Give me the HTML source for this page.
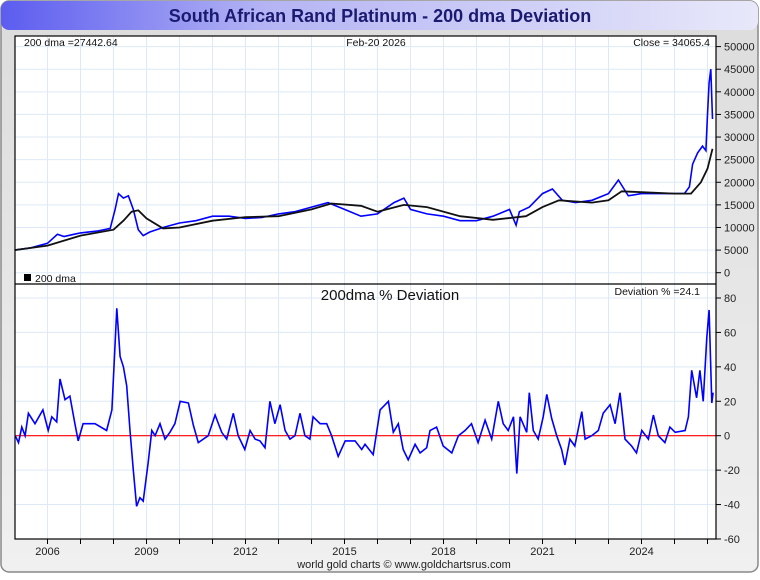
<!DOCTYPE html>
<html><head><meta charset="utf-8"><style>
body{margin:0;width:760px;height:575px;background:#fff;font-family:"Liberation Sans",sans-serif;overflow:hidden}
</style></head><body>
<svg id="c" width="760" height="575" xmlns="http://www.w3.org/2000/svg">
<defs>
<linearGradient id="tg" x1="0" x2="1" y1="0" y2="0"><stop offset="0" stop-color="#5c5cf0"/><stop offset="0.35" stop-color="#b4b4f4"/><stop offset="1" stop-color="#e8e8fa"/></linearGradient>
<linearGradient id="bg" x1="0" x2="0" y1="0" y2="1"><stop offset="0" stop-color="#dcdcdc"/><stop offset="1" stop-color="#f0f0f0"/></linearGradient>
</defs>
<rect x="1" y="1" width="757" height="571" rx="8" fill="url(#bg)" stroke="#888" stroke-width="1.5"/>
<rect x="1" y="1" width="757" height="29" rx="8" fill="url(#tg)"/>
<text x="380" y="22" text-anchor="middle" font-size="18" font-weight="bold" fill="#1a1a70">South African Rand Platinum - 200 dma Deviation</text>
<rect x="15" y="36" width="701" height="503" fill="#fff"/>
<g id="grid"></g>
<g id="marks"></g>
<line x1="15" y1="284" x2="716" y2="284" stroke="#000" stroke-width="1.2"/>
<rect x="15" y="36" width="701" height="503" fill="none" stroke="#000" stroke-width="1.2"/>
<g id="axes" font-size="11" fill="#222"></g>
<text x="24" y="46" font-size="10.5" fill="#111">200 dma =27442.64</text>
<text x="376" y="46" text-anchor="middle" font-size="10.5" fill="#111">Feb-20  2026</text>
<text x="710" y="46" text-anchor="end" font-size="10.5" fill="#111">Close = 34065.4</text>
<rect x="24" y="274" width="7" height="7" fill="#000"/>
<text x="35" y="282" font-size="10.5" fill="#111">200 dma</text>
<text x="390" y="300" text-anchor="middle" font-size="15" fill="#111">200dma  %  Deviation</text>
<text x="700" y="295" text-anchor="end" font-size="10.5" fill="#111">Deviation % =24.1</text>
<text x="404" y="568" text-anchor="middle" font-size="11" fill="#222">world gold charts © www.goldchartsrus.com</text>
</svg>
<script>
const priceT=[2005.0,2005.5,2006.0,2006.3,2006.5,2006.8,2007.0,2007.5,2007.9,2008.05,2008.15,2008.3,2008.45,2008.6,2008.75,2008.9,2009.1,2009.5,2010.0,2010.5,2011.0,2011.5,2012.0,2012.5,2013.0,2013.5,2014.0,2014.5,2015.0,2015.5,2016.0,2016.5,2016.8,2017.0,2017.5,2018.0,2018.5,2019.0,2019.5,2020.0,2020.2,2020.3,2020.6,2021.0,2021.3,2021.6,2022.0,2022.5,2023.0,2023.3,2023.6,2024.0,2024.5,2025.0,2025.3,2025.45,2025.55,2025.7,2025.85,2025.95,2026.0,2026.05,2026.1,2026.15];
const priceV=[5000,5500,6500,8500,8000,8500,8800,9200,9800,14000,17500,16500,17000,14000,9500,8200,9000,10000,11000,11500,12500,12500,12000,12200,13000,13500,14500,15500,14000,12500,13000,15500,16500,14000,13000,12500,11500,11500,12500,14000,10500,13500,14500,17500,18500,16000,15500,16000,17500,20500,17000,17500,17500,17500,17500,19000,24000,26500,28000,27000,35000,42000,45000,34000];
const dmaT=[2005.0,2006.0,2007.0,2008.0,2008.3,2008.55,2008.75,2009.0,2009.5,2010.0,2011.0,2012.0,2013.0,2014.0,2014.6,2015.5,2016.0,2016.8,2017.5,2018.5,2019.5,2020.5,2021.0,2021.5,2022.5,2023.0,2023.4,2024.0,2025.0,2025.5,2025.8,2026.0,2026.15];
const dmaV=[5000,6000,8200,9500,11500,13500,13800,12000,9800,10000,11500,12300,12500,14000,15300,14800,13500,15000,14500,12500,11700,12500,14500,16000,15500,16000,18000,17800,17500,17500,20000,23000,27400];
const devT=[2005.02,2005.12,2005.22,2005.32,2005.42,2005.62,2005.86,2006.02,2006.13,2006.28,2006.38,2006.53,2006.68,2006.83,2006.93,2007.08,2007.44,2007.79,2007.95,2008.10,2008.20,2008.30,2008.40,2008.50,2008.60,2008.70,2008.80,2008.90,2009.05,2009.16,2009.26,2009.41,2009.56,2009.71,2009.86,2010.02,2010.27,2010.42,2010.57,2010.87,2011.08,2011.28,2011.43,2011.63,2011.78,2011.98,2012.14,2012.29,2012.44,2012.59,2012.74,2012.89,2013.05,2013.20,2013.35,2013.50,2013.65,2013.80,2013.95,2014.05,2014.26,2014.46,2014.61,2014.81,2015.02,2015.32,2015.52,2015.62,2015.87,2016.08,2016.33,2016.48,2016.63,2016.78,2016.93,2017.14,2017.29,2017.49,2017.59,2017.79,2017.99,2018.25,2018.45,2018.65,2018.85,2019.05,2019.26,2019.46,2019.66,2019.81,2019.96,2020.12,2020.22,2020.32,2020.52,2020.60,2020.72,2020.87,2021.02,2021.13,2021.28,2021.43,2021.58,2021.68,2021.83,2021.98,2022.19,2022.29,2022.49,2022.69,2022.84,2023.05,2023.20,2023.35,2023.50,2023.70,2023.85,2024.01,2024.21,2024.36,2024.51,2024.71,2024.86,2025.02,2025.32,2025.42,2025.52,2025.67,2025.77,2025.87,2025.98,2026.05,2026.13,2026.17];
const devV=[0,-4,5,0,13,7,15,3,11,8,33,21,23,7,-3,7,7,3,15,74,46,40,29,3,-20,-41,-36,-38,-16,3,0,7,-2,2,7,20,19,6,-4,0,12,2,-2,13,0,-8,3,-2,-3,-7,20,7,18,3,-2,0,13,0,-2,11,7,7,0,-12,-3,-3,-8,-5,-11,15,20,2,7,-8,-14,-5,-10,-7,3,5,-6,-10,0,3,7,-4,9,-2,20,7,3,11,-22,11,2,25,3,-2,11,24,10,0,-8,-17,-2,-6,14,-2,0,3,13,18,7,25,-2,-6,-10,3,-2,12,0,-4,5,2,3,11,38,22,38,20,57,73,19,25];
const yearTicks=[2006,2009,2012,2015,2018,2021,2024];
const priceTicks=[0,5000,10000,15000,20000,25000,30000,35000,40000,45000,50000];
const devTicks=[-60,-40,-20,0,20,40,60,80];
const NS="http://www.w3.org/2000/svg";
const xS=t=>47.5+(t-2006)*33.0;
const yP=v=>272.7-v*0.004522;
const yD=v=>435.7-v*1.7214;
function mk(tag,attrs,parent){const e=document.createElementNS(NS,tag);for(const k in attrs)e.setAttribute(k,attrs[k]);parent.appendChild(e);return e;}
const grid=document.getElementById('grid'),marks=document.getElementById('marks'),axes=document.getElementById('axes');
for(let y=2005;y<=2026;y++){const x=xS(y);if(x<16||x>715)continue;
 const g=mk('line',{x1:x,x2:x,y1:36,y2:539,stroke:'#dde9f6','stroke-width':1},grid);
 
 
 const tk=mk('line',{x1:x,x2:x,y1:539,y2:544,stroke:'#000'},axes);
 
 }
yearTicks.forEach(y=>{const t=mk('text',{x:xS(y),y:555,'text-anchor':'middle'},axes);t.textContent=y;
 
 });
priceTicks.forEach(v=>{const y=yP(v);
 const g=mk('line',{x1:15,x2:716,y1:y,y2:y,stroke:'#dde9f6'},grid);
 
 
 const tk=mk('line',{x1:716,x2:721,y1:y,y2:y,stroke:'#000'},axes);
 
 
 const t=mk('text',{x:724,y:y+4},axes);t.textContent=v;
 
 });
devTicks.forEach(v=>{const y=yD(v);
 const g=mk('line',{x1:15,x2:716,y1:y,y2:y,stroke:'#dde9f6'},grid);
 
 
 const tk=mk('line',{x1:716,x2:721,y1:y,y2:y,stroke:'#000'},axes);
 
 
 const t=mk('text',{x:724,y:y+4},axes);t.textContent=v;
 
 });
const pts=(T,V,f)=>T.map((t,i)=>xS(t).toFixed(1)+','+f(V[i]).toFixed(1)).join(' ');
const pl=mk('polyline',{points:pts(priceT,priceV,yP),fill:'none',stroke:'#0000ff','stroke-width':1.6},marks);


const dl=mk('polyline',{points:pts(dmaT,dmaV,yP),fill:'none',stroke:'#111','stroke-width':1.8},marks);


const zl=mk('line',{x1:15,x2:716,y1:yD(0),y2:yD(0),stroke:'#ff0000','stroke-width':1.2},marks);


const dv=mk('polyline',{points:pts(devT,devV,yD),fill:'none',stroke:'#0000ff','stroke-width':1.6},marks);


</script>
</body></html>
